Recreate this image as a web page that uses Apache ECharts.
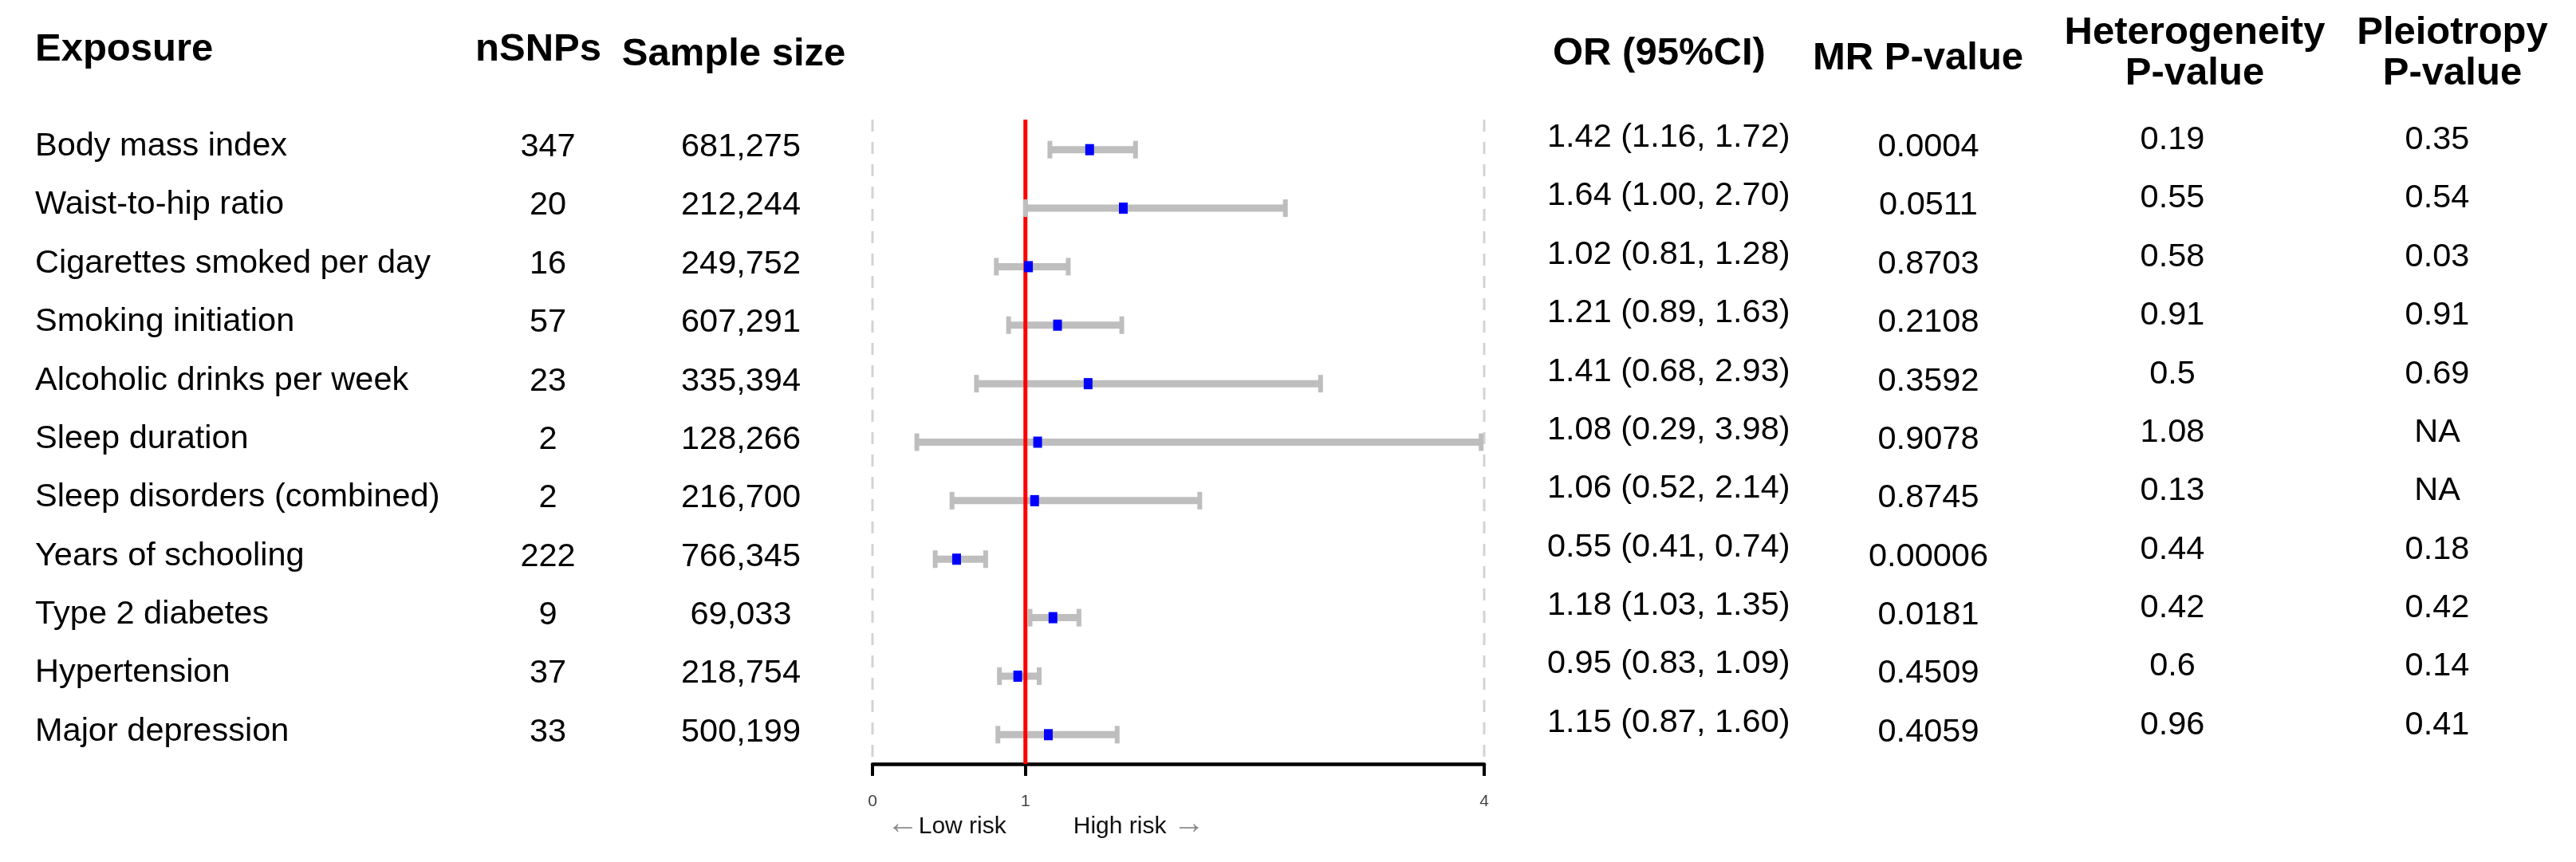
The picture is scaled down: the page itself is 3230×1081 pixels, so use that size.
<!DOCTYPE html>
<html>
<head>
<meta charset="utf-8">
<script src="https://cdn.jsdelivr.net/npm/echarts@6/dist/echarts.min.js"></script>
<style>
html,body{margin:0;padding:0;background:#fff;}
#chart{width:3230px;height:1081px;}
</style>
</head>
<body>
<div id="chart"></div>
<script>
// ---------------- data ----------------
const exposures = ['Body mass index','Waist-to-hip ratio','Cigarettes smoked per day','Smoking initiation','Alcoholic drinks per week','Sleep duration','Sleep disorders (combined)','Years of schooling','Type 2 diabetes','Hypertension','Major depression'];
const nSNPs = ['347','20','16','57','23','2','2','222','9','37','33'];
const sampleSizes = ['681,275','212,244','249,752','607,291','335,394','128,266','216,700','766,345','69,033','218,754','500,199'];
const orValues = [1.42,1.64,1.02,1.21,1.41,1.08,1.06,0.55,1.18,0.95,1.15];
const ciLower = [1.16,1.00,0.81,0.89,0.68,0.29,0.52,0.41,1.03,0.83,0.82];
const ciUpper = [1.72,2.70,1.28,1.63,2.93,3.98,2.14,0.74,1.35,1.09,1.60];
const orText = ['1.42 (1.16, 1.72)','1.64 (1.00, 2.70)','1.02 (0.81, 1.28)','1.21 (0.89, 1.63)','1.41 (0.68, 2.93)','1.08 (0.29, 3.98)','1.06 (0.52, 2.14)','0.55 (0.41, 0.74)','1.18 (1.03, 1.35)','0.95 (0.83, 1.09)','1.15 (0.87, 1.60)'];
const mrPValues = ['0.0004','0.0511','0.8703','0.2108','0.3592','0.9078','0.8745','0.00006','0.0181','0.4509','0.4059'];
const hetPValues = ['0.19','0.55','0.58','0.91','0.5','1.08','0.13','0.44','0.42','0.6','0.96'];
const pleioPValues = ['0.35','0.54','0.03','0.91','0.69','NA','NA','0.18','0.42','0.14','0.41'];
const headers = ['Exposure','nSNPs','Sample size','OR (95%CI)','MR P-value','Heterogeneity\nP-value','Pleiotropy\nP-value'];
const xTicks = [0,1,4];
const refValues = [1];
const boundaryValues = [0,4];
const riskLabels = ['Low risk','High risk'];

// ---------------- layout ----------------
const FONT = "'Liberation Sans', Arial, Helvetica, sans-serif";
const L = {gridLeft:1094, gridRight:1861, gridTop:151, gridBottom:958};
const BODY = 41.5, HEAD = 49;
// dy: upward shift of the column text relative to the row centre
const columns = [
  {vals: exposures,    side:'left',  x:44,   align:'left',   dy:4,  hShift:0,   hy:62},
  {vals: nSNPs,        side:'left',  x:687,  align:'center', dy:3,  hShift:-12, hy:62},
  {vals: sampleSizes,  side:'left',  x:929,  align:'center', dy:3,  hShift:-9,  hy:68},
  {vals: orText,       side:'right', x:1940, align:'left',   dy:15, hShift:7,   hy:67},
  {vals: mrPValues,    side:'right', x:2418, align:'center', dy:3,  hShift:-13, hy:73},
  {vals: hetPValues,   side:'right', x:2724, align:'center', dy:12, hShift:28,  hy:67},
  {vals: pleioPValues, side:'right', x:3056, align:'center', dy:12, hShift:19,  hy:67}
];

const cats = exposures.slice().reverse();
const forestData = exposures.map((e,i)=>[orValues[i], ciLower[i], ciUpper[i], e]);
const gridH = L.gridBottom - L.gridTop;
const gridW = L.gridRight - L.gridLeft;

const grids = [{left:L.gridLeft, top:L.gridTop, width:gridW, height:gridH, containLabel:false, outerBoundsMode:'none'}];
const xAxes = [{type:'value', gridIndex:0, min:0, max:4, position:'bottom',
  axisLine:{show:true, onZero:false, lineStyle:{color:'#000', width:4.5}},
  axisTick:{show:true, customValues:xTicks, length:15, lineStyle:{color:'#000', width:4}},
  axisLabel:{show:true, customValues:xTicks, margin:37, fontSize:21, color:'#444', fontFamily:FONT},
  splitLine:{show:false}}];
const yAxes = [{
  type:'category', gridIndex:0, data:cats, position:'left',
  axisLine:{show:false}, axisTick:{show:false}, axisLabel:{show:false}, splitLine:{show:false}
}];

columns.forEach((col, ci)=>{
  const offset = col.side==='left' ? L.gridLeft - col.x : col.x - L.gridRight;
  // header: an axis of the main grid that only carries the column name
  const s = col.hShift;
  let pad;
  if (col.align === 'center') pad = [0, s<0 ? -2*s : 0, 0, s>0 ? 2*s : 0];
  else pad = [0, 0, 0, Math.max(s,0)];
  yAxes.push({
    type:'category', gridIndex:0, data:cats, position:col.side, offset:offset,
    axisLine:{show:false}, axisTick:{show:false}, axisLabel:{show:false}, splitLine:{show:false},
    name: headers[ci], nameLocation:'end', nameGap: L.gridTop - col.hy,
    nameTextStyle:{fontFamily:FONT, fontSize:HEAD, fontWeight:'bold', color:'#000',
      align:col.align, verticalAlign:'middle', lineHeight:51, padding:pad}
  });
  // values: an axis in a grid shifted up by dy
  const gi = grids.length;
  grids.push({left:L.gridLeft, top:L.gridTop - col.dy, width:gridW, height:gridH, containLabel:false, outerBoundsMode:'none'});
  xAxes.push({type:'value', gridIndex:gi, min:0, max:4, show:false});
  const rev = col.vals.slice().reverse();
  yAxes.push({
    type:'category', gridIndex:gi, data:cats, position:col.side, offset:offset,
    axisLine:{show:false}, axisTick:{show:false}, splitLine:{show:false},
    axisLabel:{show:true, interval:0, margin:0, align:col.align, verticalAlign:'middle',
      fontFamily:FONT, fontSize:BODY, color:'#000',
      formatter:(v,i)=>rev[i]}
  });
});

const chart = echarts.init(document.getElementById('chart'), null, {renderer:'canvas'});
const option = {
  backgroundColor:'#ffffff',
  animation:false,
  grid: grids,
  xAxis: xAxes,
  yAxis: yAxes,
  series:[
    { // dashed boundary lines
      type:'custom', z:1, silent:true, xAxisIndex:0, yAxisIndex:0,
      data: boundaryValues.map(v=>[v, exposures[0]]), encode:{x:0, y:1},
      renderItem:(params, api)=>{
        const x = api.coord([api.value(0), 0])[0];
        const cs = params.coordSys;
        return {type:'line', shape:{x1:x, y1:cs.y-1, x2:x, y2:cs.y+cs.height},
          style:{stroke:'#d3d3d3', lineWidth:3, lineDash:[15,13]}};
      }
    },
    { // CI bars
      type:'custom', z:2, silent:true, xAxisIndex:0, yAxisIndex:0,
      data: forestData, dimensions:['or','lo','hi','exposure'], encode:{x:[0,1,2], y:3},
      renderItem:(params, api)=>{
        const lo = api.coord([api.value(1), api.value(3)]);
        const hi = api.coord([api.value(2), api.value(3)]);
        return {type:'line', shape:{x1:lo[0], y1:lo[1], x2:hi[0], y2:hi[1]},
          style:{stroke:'#bebebe', lineWidth:9}};
      }
    },
    { // reference line at OR = 1
      type:'custom', z:3, silent:true, xAxisIndex:0, yAxisIndex:0,
      data: refValues.map(v=>[v, exposures[0]]), encode:{x:0, y:1},
      renderItem:(params, api)=>{
        const x = api.coord([api.value(0), 0])[0];
        const cs = params.coordSys;
        return {type:'line', shape:{x1:x, y1:cs.y-1, x2:x, y2:cs.y+cs.height},
          style:{stroke:'#ff0000', lineWidth:5}};
      }
    },
    { // caps and point estimates
      type:'custom', z:4, silent:true, xAxisIndex:0, yAxisIndex:0,
      data: forestData, dimensions:['or','lo','hi','exposure'], encode:{x:[0,1,2], y:3},
      renderItem:(params, api)=>{
        const c = api.coord([api.value(0), api.value(3)]);
        const lo = api.coord([api.value(1), api.value(3)]);
        const hi = api.coord([api.value(2), api.value(3)]);
        return {type:'group', children:[
          {type:'line', shape:{x1:lo[0], y1:lo[1]-11, x2:lo[0], y2:lo[1]+11}, style:{stroke:'#bebebe', lineWidth:6}},
          {type:'line', shape:{x1:hi[0], y1:hi[1]-11, x2:hi[0], y2:hi[1]+11}, style:{stroke:'#bebebe', lineWidth:6}},
          {type:'rect', shape:{x:c[0]-5.5, y:c[1]-7, width:11, height:14}, style:{fill:'#0000ff'}}
        ]};
      }
    }
  ]
};
chart.setOption(option);

const px1 = chart.convertToPixel({xAxisIndex:0}, refValues[0]);
const riskRich = {
  a:{fill:'#8c8c8c', fontSize:40, fontFamily:FONT, verticalAlign:'middle', lineHeight:40, padding:[0,0,6,0]},
  b:{fill:'#111', fontSize:30, fontFamily:FONT, verticalAlign:'middle', lineHeight:40}
};
chart.setOption({
  graphic:[
    {type:'text', x:px1-24, y:1037, silent:true,
      style:{text:'{a|←}{b|' + riskLabels[0] + '}', align:'right', verticalAlign:'middle',
        font:'30px ' + FONT, rich:riskRich}},
    {type:'text', x:px1+60, y:1037, silent:true,
      style:{text:'{b|' + riskLabels[1] + ' }{a|→}', align:'left', verticalAlign:'middle',
        font:'30px ' + FONT, rich:riskRich}}
  ]
});
</script>
</body>
</html>
